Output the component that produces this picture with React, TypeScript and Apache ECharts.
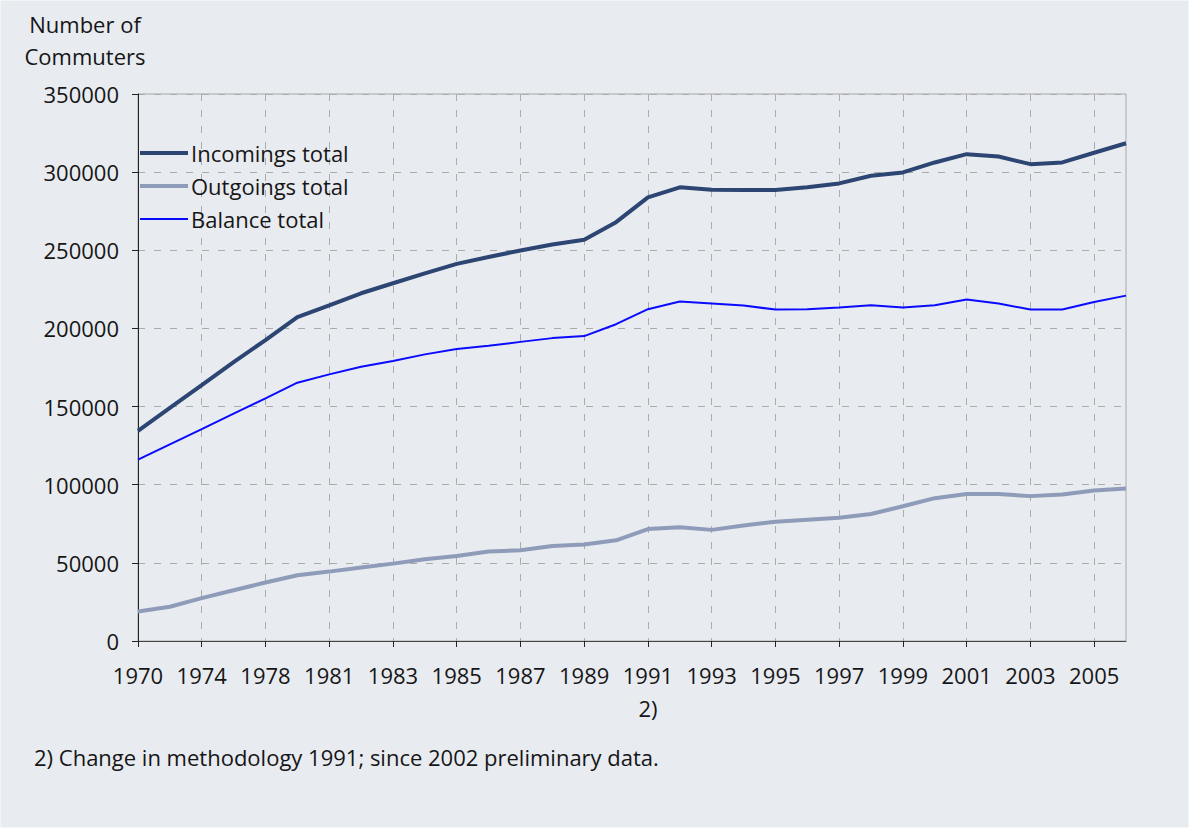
import React, { useEffect, useRef } from "react";
import * as echarts from "echarts";

const years = [
  "1970", "1972", "1974", "1976", "1978", "1980",
  "1981", "1982", "1983", "1984", "1985", "1986", "1987", "1988", "1989", "1990",
  "1991", "1992", "1993", "1994", "1995", "1996", "1997", "1998", "1999", "2000",
  "2001", "2002", "2003", "2004", "2005", "2006",
];

const incomings = [
  134500, 149200, 163800, 178500, 192500, 207200, 214800, 222500, 228900, 235200,
  241300, 245700, 249900, 253700, 256700, 268000, 283900, 290300, 288800, 288600,
  288600, 290300, 292800, 297700, 299800, 306200, 311500, 310000, 305100, 306200,
  312400, 318500,
];

const outgoings = [
  18900, 21900, 27400, 32500, 37400, 42100, 44400, 47000, 49500, 52300,
  54400, 57200, 58000, 60800, 61800, 64400, 71600, 72800, 71100, 73900,
  76300, 77600, 78900, 81300, 86200, 91400, 94000, 94000, 92700, 93800,
  96300, 97600,
];

const balance = [
  116000, 125800, 135600, 145500, 155300, 165300, 170600, 175500, 179100, 183400,
  186800, 188900, 191400, 193800, 195100, 202700, 212300, 217200, 215900, 214600,
  212100, 212300, 213400, 214800, 213400, 214800, 218500, 215900, 212100, 212100,
  216900, 221000,
];

const seriesNames = ["Incomings total", "Outgoings total", "Balance total"];
const footnoteYear = "1991";
const footnoteMark = "2)";
const yAxisTitle = ["Number of", "Commuters"];
const footnote = "2) Change in methodology 1991; since 2002 preliminary data.";

const FONT = "'Open Sans', 'Noto Sans', sans-serif";
const TEXT = "#161616";
const FS = 22;
const GRID_COLOR = "#ababab";

const everyOther = (index: number) => index % 2 === 0;

export default function App() {
  const ref = useRef<HTMLDivElement>(null);

  useEffect(() => {
    document.body.style.margin = "0";
    if (!ref.current) return;
    const chart = echarts.init(ref.current, undefined, { renderer: "svg" });
    chart.setOption({
      animation: false,
      backgroundColor: "#e8ebf0",
      textStyle: { fontFamily: FONT },
      grid: {
        left: 137,
        right: 62,
        top: 93,
        bottom: 186,
        show: true,
        borderColor: "#a8a8a8",
        borderWidth: 1,
        backgroundColor: "transparent",
      },
      legend: {
        orient: "vertical",
        left: 137,
        top: 141,
        padding: 0,
        itemWidth: 48,
        itemHeight: 14,
        itemGap: 11,
        data: seriesNames,
        itemStyle: { color: "rgba(0,0,0,0)", borderWidth: 0, opacity: 0 },
        lineStyle: { width: "inherit" },
        textStyle: { fontSize: FS, color: TEXT, fontFamily: FONT, padding: [0, 0, 0, -2] },
      },
      xAxis: {
        type: "category",
        data: years,
        boundaryGap: false,
        axisLine: { show: true, lineStyle: { color: "#444", width: 1 } },
        axisTick: { show: true, interval: everyOther, length: 6, lineStyle: { color: "#222" } },
        axisLabel: {
          interval: everyOther,
          fontSize: FS,
          color: TEXT,
          fontFamily: FONT,
          margin: 17,
          lineHeight: 33,
          formatter: (v: string) => (v === footnoteYear ? v + "\n" + footnoteMark : v),
        },
        splitLine: {
          show: true,
          interval: everyOther,
          lineStyle: { color: GRID_COLOR, type: [7, 9], width: 1 },
        },
      },
      yAxis: {
        type: "value",
        min: 0,
        max: 350000,
        interval: 50000,
        axisLine: { show: true, lineStyle: { color: "#222", width: 1 } },
        axisTick: { show: true, length: 6, lineStyle: { color: "#222" } },
        axisLabel: {
          fontSize: FS,
          color: TEXT,
          fontFamily: FONT,
          margin: 19,
          formatter: (v: number) => String(v),
        },
        splitLine: { show: true, lineStyle: { color: GRID_COLOR, type: [7, 9], width: 1 } },
      },
      series: [
        {
          name: seriesNames[0],
          type: "line",
          data: incomings,
          symbol: "none",
          lineStyle: { color: "#2c4572", width: 4 },
          itemStyle: { color: "#2c4572" },
          z: 4,
        },
        {
          name: seriesNames[1],
          type: "line",
          data: outgoings,
          symbol: "none",
          lineStyle: { color: "#8f9cb9", width: 4 },
          itemStyle: { color: "#8f9cb9" },
          z: 3,
        },
        {
          name: seriesNames[2],
          type: "line",
          data: balance,
          symbol: "none",
          lineStyle: { color: "#0a0aff", width: 2 },
          itemStyle: { color: "#0a0aff" },
          z: 5,
        },
      ],
      graphic: [
        {
          type: "text",
          x: 84,
          y: 23,
          style: {
            text: yAxisTitle[0],
            fontSize: FS,
            fontFamily: FONT,
            fill: TEXT,
            textAlign: "center",
            textVerticalAlign: "middle",
          },
        },
        {
          type: "text",
          x: 84,
          y: 55,
          style: {
            text: yAxisTitle[1],
            fontSize: FS,
            fontFamily: FONT,
            fill: TEXT,
            textAlign: "center",
            textVerticalAlign: "middle",
          },
        },
        {
          type: "text",
          x: 33,
          y: 756,
          style: {
            text: footnote,
            fontSize: FS,
            fontFamily: FONT,
            fill: TEXT,
            textAlign: "left",
            textVerticalAlign: "middle",
          },
        },
      ],
    });
    return () => chart.dispose();
  }, []);

  return (
    <div
      ref={ref}
      style={{
        position: "absolute",
        left: 0,
        top: 0,
        width: 1189,
        height: 828,
        boxSizing: "border-box",
        border: "1px solid #f4f5f8",
      }}
    />
  );
}
